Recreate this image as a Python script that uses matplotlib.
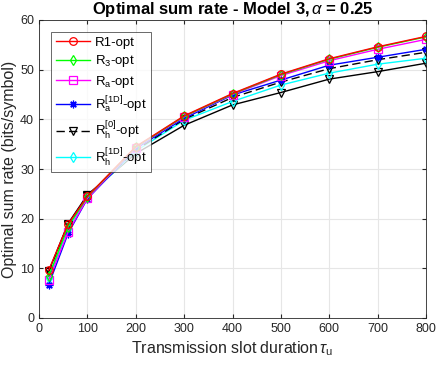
import matplotlib
matplotlib.use("Agg")
import matplotlib.pyplot as plt

plt.rcParams['font.family'] = ['Liberation Sans', 'DejaVu Sans']
plt.rcParams['mathtext.fontset'] = 'custom'
plt.rcParams['mathtext.rm'] = 'Liberation Sans'
plt.rcParams['mathtext.it'] = 'Liberation Sans:italic'

tau = [20, 60, 100, 200, 300, 400, 500, 600, 700, 800]
r1_opt  = [9.6, 18.9, 24.5, 34.5, 40.7, 45.2, 49.1, 52.2, 54.6, 56.7]
r3_opt  = [8.4, 18.4, 24.4, 34.4, 40.6, 45.1, 49.0, 52.1, 54.5, 56.6]
ra_opt  = [7.6, 17.3, 24.1, 34.3, 40.5, 45.0, 48.8, 51.8, 54.1, 56.1]
ra1d_opt = [6.7, 17.0, 24.0, 34.1, 40.2, 44.9, 47.9, 50.9, 52.5, 54.1]
rh0_opt = [9.2, 18.8, 24.6, 33.8, 40.0, 44.4, 47.5, 50.2, 52.0, 53.5]
rh1d_opt = [8.0, 18.0, 24.3, 33.6, 39.8, 43.6, 46.9, 49.3, 51.1, 52.3]
extra   = [9.4, 19.0, 24.8, 33.1, 38.8, 42.9, 45.4, 48.1, 49.6, 51.3]

labels = ['R1-opt', r'R$_\mathrm{3}$-opt', r'R$_\mathrm{a}$-opt',
          r'R$_\mathrm{a}^\mathrm{[1D]}$-opt',
          r'R$_\mathrm{h}^\mathrm{[0]}$-opt', r'R$_\mathrm{h}^\mathrm{[1D]}$-opt']
xticks = [0, 100, 200, 300, 400, 500, 600, 700, 800]
yticks = [0, 10, 20, 30, 40, 50, 60]

fig = plt.figure(figsize=(4.36, 3.65), dpi=100)
ax = fig.add_axes([39/436, 1-318/365, (426-39)/436, (318-20)/365])

kw = dict(linewidth=1.0, markersize=5.5, markerfacecolor='none', markeredgewidth=0.9)
ax.plot(tau, extra, color='black', linestyle='-', marker='v', **kw)
ax.plot(tau, rh1d_opt, color=(0, 1, 1), linestyle='-', marker='d', label=labels[5], **kw)
ax.plot(tau, rh0_opt, color='black', linestyle=(0, (6, 3)), marker='v', label=labels[4], **kw)
ax.plot(tau, ra1d_opt, color=(0, 0, 1), linestyle='-', marker=(8, 2, 0), label=labels[3], **kw)
ax.plot(tau, ra_opt, color=(1, 0, 1), linestyle='-', marker='s', label=labels[2], **kw)
ax.plot(tau, r3_opt, color=(0, 1, 0), linestyle='-', marker='d', label=labels[1], **kw)
ax.plot(tau, r1_opt, color=(1, 0, 0), linestyle='-', marker='o', label=labels[0], **kw)

ax.set_xlim(0, 800)
ax.set_ylim(0, 60)
ax.set_xticks(xticks)
ax.set_yticks(yticks)
ax.tick_params(direction='in', labelsize=9, colors='#262626', length=3, top=True, right=True)
ax.grid(True, color='#e6e6e6', linewidth=0.8)
ax.set_axisbelow(True)
for s in ax.spines.values():
    s.set_color('#262626')
    s.set_linewidth(0.6)

ax.set_xlabel(r'Transmission slot duration$\,\tau_\mathrm{u}$', fontsize=11.5, color='#262626', labelpad=3)
ax.set_ylabel('Optimal sum rate (bits/symbol)', fontsize=11.5, color='#262626', labelpad=2)
ax.set_title(r'Optimal sum rate - Model 3,$\,\alpha$ = 0.25', fontsize=12, fontweight='bold', pad=4)

h, l = ax.get_legend_handles_labels()
hd = dict(zip(l, h))
leg = ax.legend([hd[x] for x in labels], labels, loc='upper left',
                bbox_to_anchor=(51/436, 1-32/365), bbox_transform=fig.transFigure,
                fontsize=9.5, frameon=True, fancybox=False, edgecolor='#262626', handlelength=2.6,
                labelspacing=0.35, borderpad=0.35, handletextpad=0.35, borderaxespad=0)
leg.get_frame().set_linewidth(0.6)

fig.savefig('out.png', dpi=100)
